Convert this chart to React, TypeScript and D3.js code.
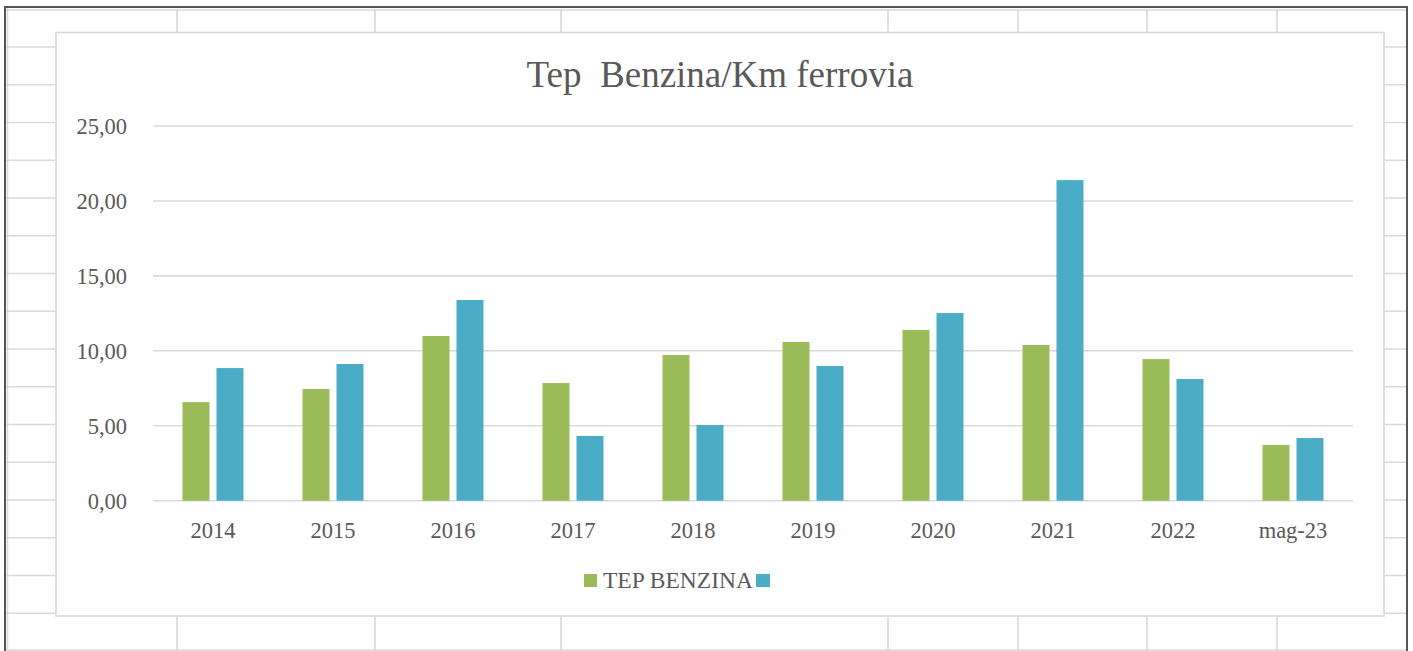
import React from "react";
import * as d3 from "d3";

const categories = ["2014", "2015", "2016", "2017", "2018", "2019", "2020", "2021", "2022", "mag-23"];
const tepBenzina = [6.58, 7.45, 10.99, 7.85, 9.72, 10.59, 11.39, 10.39, 9.45, 3.72];
const secondSeries = [8.85, 9.12, 13.39, 4.32, 5.05, 8.99, 12.52, 21.39, 8.12, 4.18];
const yTicks = [0, 5, 10, 15, 20, 25];
const seriesNames = ["TEP BENZINA", ""];
const seriesColors = ["#9BBB59", "#4BACC6"];
const titleText = "Tep  Benzina/Km ferrovia";

const W = 1413;
const H = 651;
const FONT = "'Liberation Serif', 'Times New Roman', serif";
const TEXT = "#595959";
const GRID = "#d9d9d9";

export default function App() {
  const plot = { left: 153, right: 1353, top: 126, bottom: 500.7 };
  const y = d3.scaleLinear().domain([0, 25]).range([plot.bottom, plot.top]);
  const x0 = d3.scaleBand<string>().domain(categories).range([plot.left, plot.right]).padding(0);
  const x1 = d3
    .scaleBand<number>()
    .domain([0, 1])
    .range([29.5, 90.5])
    .paddingInner(7 / 34)
    .paddingOuter(0);
  const fmt = (v: number) => d3.format(".2f")(v).replace(".", ",");

  const cellCols = [177, 375, 561, 888, 1018, 1147, 1277];
  const cellRows = d3.range(16).map((k) => 47 + k * 37.75);
  const series = [tepBenzina, secondSeries];

  return (
    <svg
      width={W}
      height={H}
      style={{ position: "absolute", left: 0, top: 0, background: "#fff" }}
      fontFamily={FONT}
    >
      <rect x={0} y={0} width={W} height={H} fill="#fff" />
      {/* spreadsheet cell grid */}
      <g stroke={GRID} strokeWidth={1.6}>
        <line x1={6} x2={1406} y1={10} y2={10} />
        <line x1={6} x2={1406} y1={650} y2={650} />
        {cellRows.map((r, i) => (
          <line key={"r" + i} x1={6} x2={1406} y1={r} y2={r} />
        ))}
        {cellCols.map((c, i) => (
          <line key={"c" + i} x1={c} x2={c} y1={10} y2={651} />
        ))}
        <line x1={7.5} x2={7.5} y1={8} y2={651} />
      </g>
      {/* outer dark border */}
      <g stroke="#555" strokeWidth={2}>
        <line x1={5} x2={1407} y1={7} y2={7} />
        <line x1={5} x2={5} y1={6} y2={651} />
        <line x1={1407} x2={1407} y1={6} y2={651} />
      </g>
      {/* chart area */}
      <rect x={56} y={32.5} width={1328} height={583.5} fill="#fff" stroke={GRID} strokeWidth={1.6} />
      {/* title */}
      <text
        x={720}
        y={87}
        textAnchor="middle"
        fontSize={37}
        fill={TEXT}
        style={{ whiteSpace: "pre" }}
      >
        {titleText}
      </text>
      {/* gridlines */}
      <g stroke={GRID} strokeWidth={1.6}>
        {yTicks.map((t) => (
          <line key={t} x1={plot.left} x2={plot.right} y1={y(t)} y2={y(t)} />
        ))}
      </g>
      {/* y labels */}
      <g fontSize={22.5} fill={TEXT} textAnchor="end">
        {yTicks.map((t) => (
          <text key={t} x={127} y={y(t)} dy="0.35em">
            {fmt(t)}
          </text>
        ))}
      </g>
      {/* bars */}
      {categories.map((c, i) => (
        <g key={c} transform={`translate(${x0(c)},0)`}>
          {series.map((s, j) => (
            <rect
              key={j}
              x={x1(j)}
              y={y(s[i])}
              width={x1.bandwidth()}
              height={y(0) - y(s[i])}
              fill={seriesColors[j]}
            />
          ))}
        </g>
      ))}
      {/* x labels */}
      <g fontSize={22.5} fill={TEXT} textAnchor="middle">
        {categories.map((c) => (
          <text key={c} x={(x0(c) as number) + x0.bandwidth() / 2} y={538}>
            {c}
          </text>
        ))}
      </g>
      {/* legend */}
      <g>
        <rect x={584} y={574} width={13} height={13} fill={seriesColors[0]} />
        <text x={603} y={588} fontSize={23.5} fill={TEXT}>
          {seriesNames[0]}
        </text>
        <rect x={756} y={574} width={14} height={13} fill={seriesColors[1]} />
      </g>
    </svg>
  );
}
